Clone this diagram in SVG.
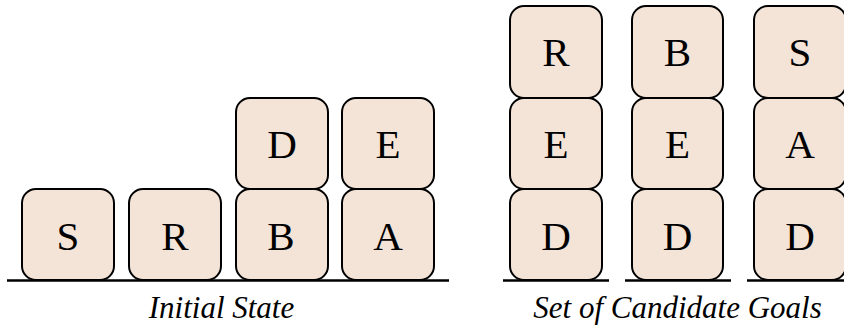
<svg xmlns="http://www.w3.org/2000/svg" width="844" height="327" viewBox="0 0 844 327">
<style>
.blk{fill:#f4e4d8;stroke:#000;stroke-width:2}
.lbl{font-size:41px;text-anchor:middle;fill:#000}
.cap{font-size:31px;font-style:italic;text-anchor:middle;fill:#000}
.gnd{stroke:#000;stroke-width:2.5}
</style>
<rect width="844" height="327" fill="#fff"/>
<g font-family="'Liberation Serif', 'DejaVu Serif', 'Times New Roman', serif">
<g id="initial-state">
<g id="i-S"><rect class="blk" x="22" y="189" width="92" height="91" rx="14"/><text class="lbl" x="68" y="249.5">S</text></g>
<g id="i-R"><rect class="blk" x="129" y="189" width="92" height="91" rx="14"/><text class="lbl" x="175" y="249.5">R</text></g>
<g id="i-B"><rect class="blk" x="236" y="189" width="92" height="91" rx="14"/><text class="lbl" x="281" y="249.5">B</text></g>
<g id="i-D"><rect class="blk" x="236" y="98" width="92" height="91" rx="14"/><text class="lbl" x="282" y="157.5">D</text></g>
<g id="i-A"><rect class="blk" x="342" y="189" width="92" height="91" rx="14"/><text class="lbl" x="388" y="249.5">A</text></g>
<g id="i-E"><rect class="blk" x="342" y="98" width="92" height="91" rx="14"/><text class="lbl" x="388" y="157.5">E</text></g>
<line class="gnd" x1="7" y1="280.5" x2="449" y2="280.5"/>
<text class="cap" x="221.5" y="318">Initial State</text>
</g>
<g id="goals">
<g id="g1-R"><rect class="blk" x="510" y="6" width="92" height="92" rx="14"/><text class="lbl" x="556" y="66">R</text></g>
<g id="g1-E"><rect class="blk" x="510" y="98" width="92" height="91" rx="14"/><text class="lbl" x="556" y="157.5">E</text></g>
<g id="g1-D"><rect class="blk" x="510" y="189" width="92" height="91" rx="14"/><text class="lbl" x="556" y="249.5">D</text></g>
<g id="g2-B"><rect class="blk" x="632" y="6" width="91" height="92" rx="14"/><text class="lbl" x="677.5" y="66">B</text></g>
<g id="g2-E"><rect class="blk" x="632" y="98" width="91" height="91" rx="14"/><text class="lbl" x="677.5" y="157.5">E</text></g>
<g id="g2-D"><rect class="blk" x="632" y="189" width="91" height="91" rx="14"/><text class="lbl" x="677.5" y="249.5">D</text></g>
<g id="g3-S"><rect class="blk" x="754" y="6" width="92" height="92" rx="14"/><text class="lbl" x="800" y="66">S</text></g>
<g id="g3-A"><rect class="blk" x="754" y="98" width="92" height="91" rx="14"/><text class="lbl" x="800" y="157.5">A</text></g>
<g id="g3-D"><rect class="blk" x="754" y="189" width="92" height="91" rx="14"/><text class="lbl" x="800" y="249.5">D</text></g>
<line class="gnd" x1="503" y1="280.5" x2="609" y2="280.5"/>
<line class="gnd" x1="625" y1="280.5" x2="731" y2="280.5"/>
<line class="gnd" x1="747" y1="280.5" x2="844" y2="280.5"/>
<text class="cap" x="677.5" y="318">Set of Candidate Goals</text>
</g>
</g>
</svg>
